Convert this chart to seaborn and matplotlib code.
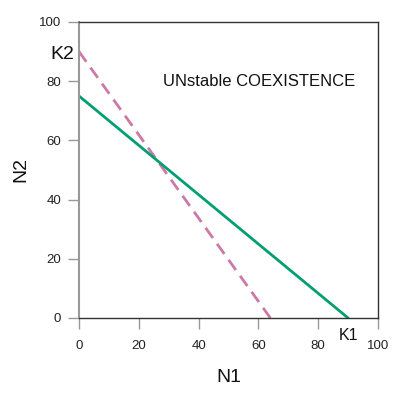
import matplotlib
matplotlib.use("Agg")
import matplotlib.pyplot as plt
import seaborn as sns
import pandas as pd

sns.set_theme(style="white")
plt.rcParams['font.family'] = ['Liberation Sans', 'DejaVu Sans']

# Species 1 isocline: N2 intercept 75, N1 intercept (K1) 90
sp1_n1 = [0, 90]
sp1_n2 = [75, 0]
# Species 2 isocline: N2 intercept (K2) 90, N1 intercept 64
sp2_n1 = [0, 64]
sp2_n2 = [90, 0]
ticks = [0, 20, 40, 60, 80, 100]

df1 = pd.DataFrame({"N1": sp1_n1, "N2": sp1_n2})
df2 = pd.DataFrame({"N1": sp2_n1, "N2": sp2_n2})

fig = plt.figure(figsize=(4.06, 3.94), dpi=100)
ax = fig.add_axes([79/406, 1-318/394, 299/406, 296/394])

sns.lineplot(data=df2, x="N1", y="N2", ax=ax, color="#CC79A7", lw=2,
             linestyle=(0, (4.5, 2.6)))
sns.lineplot(data=df1, x="N1", y="N2", ax=ax, color="#009E73", lw=2)

ax.set_xlim(0, 100)
ax.set_ylim(0, 100)
ax.set_xticks(ticks)
ax.set_yticks(ticks)
ax.tick_params(axis="both", length=8, width=1, color="#999999",
               labelsize=9.5, direction="out",
               bottom=True, left=True, labelcolor="#222222")
ax.tick_params(axis="y", pad=5)
ax.tick_params(axis="x", pad=8)

for s in ["top", "bottom", "right"]:
    ax.spines[s].set_color("#333333")
    ax.spines[s].set_linewidth(1)
ax.spines["left"].set_color("#999999")
ax.spines["left"].set_linewidth(1.5)

ax.set_xlabel("N1", fontsize=14, labelpad=12, color="#111111")
ax.set_ylabel("N2", fontsize=14, labelpad=7, color="#111111")

ax.text(-1.5, 89, "K2", fontsize=14, ha="right", va="center",
        color="#111111")
ax.text(90, -3.5, "K1", fontsize=11.5, ha="center", va="top", color="#111111")
ax.text(28, 80, "UNstable COEXISTENCE", fontsize=12, ha="left",
        va="center", color="#111111")

fig.savefig("out.png", dpi=100)
